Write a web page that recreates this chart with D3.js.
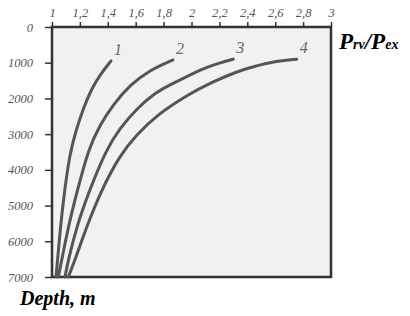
<!DOCTYPE html>
<html>
<head>
<meta charset="utf-8">
<script src="https://cdn.jsdelivr.net/npm/d3@7"></script>
<style>
  body { margin: 0; background: #fff; }
  svg { display: block; }
  .tick text { font-family: "Liberation Serif", serif; font-style: italic; fill: #555; }
</style>
</head>
<body>
<div id="chart"></div>
<script>
// chart size, matches the window
const svgWidth = 410;
const svgHeight = 316;
const margin = { top: 27, right: 79, bottom: 39, left: 52 };
const width = svgWidth - margin.left - margin.right;
const height = svgHeight - margin.top - margin.bottom;

// tick values for both axes
const ratioTicks = [1, 1.2, 1.4, 1.6, 1.8, 2, 2.2, 2.4, 2.6, 2.8, 3];
const ratioTickLabels = ["1", "1,2", "1,4", "1,6", "1,8", "2", "2,2", "2,4", "2,6", "2,8", "3"];
const depthTicks = [0, 1000, 2000, 3000, 4000, 5000, 6000, 7000];

// curve names and points: [ratio, depth]
const curveNames = ["1", "2", "3", "4"];
const curve1 = [[1.423, 950], [1.344, 1340], [1.285, 1720], [1.224, 2280], [1.177, 2840], [1.129, 3490], [1.081, 4840], [1.052, 5960], [1.029, 7000]];
const curve2 = [[1.867, 920], [1.703, 1200], [1.559, 1620], [1.437, 2180], [1.344, 2740], [1.262, 3400], [1.177, 4650], [1.117, 5590], [1.070, 6520], [1.045, 7000]];
const curve3 = [[2.300, 900], [2.204, 1000], [2.085, 1160], [1.966, 1390], [1.846, 1620], [1.751, 1810], [1.607, 2280], [1.487, 2840], [1.392, 3400], [1.260, 4650], [1.177, 5590], [1.117, 6520], [1.093, 7000]];
const curve4 = [[2.754, 900], [2.611, 950], [2.443, 1110], [2.324, 1250], [2.156, 1530], [1.989, 1860], [1.751, 2460], [1.607, 3020], [1.487, 3580], [1.344, 4650], [1.249, 5590], [1.165, 6520], [1.117, 7000]];
const curves = [curve1, curve2, curve3, curve4];

const svg = d3.select("#chart")
    .append("svg")
    .attr("width", svgWidth)
    .attr("height", svgHeight);

const g = svg.append("g")
    .attr("transform", `translate(${margin.left},${margin.top})`);

const x = d3.scaleLinear().domain([1, 3]).range([0, width]);
const y = d3.scaleLinear().domain([0, 7000]).range([0, height]);

// plot background
g.append("rect")
    .attr("x", 0)
    .attr("y", 0)
    .attr("width", width)
    .attr("height", height)
    .attr("fill", "#f1f1f1");

// top axis
const xAxis = g.append("g")
    .attr("class", "axis axis-x")
    .call(d3.axisTop(x)
        .tickValues(ratioTicks)
        .tickFormat((d, i) => ratioTickLabels[i])
        .tickSize(5)
        .tickPadding(5));
xAxis.select(".domain").remove();
xAxis.selectAll(".tick line").attr("stroke", "#333").attr("stroke-width", 1.5);
xAxis.selectAll(".tick text").attr("font-size", "12.5px");

// left axis
const yAxis = g.append("g")
    .attr("class", "axis axis-y")
    .call(d3.axisLeft(y)
        .tickValues(depthTicks)
        .tickFormat(d3.format("d"))
        .tickSize(7)
        .tickPadding(12));
yAxis.select(".domain").remove();
yAxis.selectAll(".tick line").attr("stroke", "#333").attr("stroke-width", 1.5);
yAxis.selectAll(".tick text").attr("font-size", "12.5px");

// frame
g.append("rect")
    .attr("x", 0)
    .attr("y", 0)
    .attr("width", width)
    .attr("height", height)
    .attr("fill", "none")
    .attr("stroke", "#333")
    .attr("stroke-width", 2.5);

// curves, basis keeps them smooth through the hand read points
const line = d3.line()
    .x(d => x(d[0]))
    .y(d => y(d[1]))
    .curve(d3.curveBasis);

g.selectAll(".curve")
    .data(curves)
    .enter()
    .append("path")
    .attr("class", "curve")
    .attr("d", line)
    .attr("fill", "none")
    .attr("stroke", "#555")
    .attr("stroke-width", 3)
    .attr("stroke-linecap", "round");

// curve numbers near the top end of each curve
g.selectAll(".curveLabel")
    .data(curves)
    .enter()
    .append("text")
    .attr("class", "curveLabel")
    .text((d, i) => curveNames[i])
    .attr("x", d => x(d[0][0]) + 7)
    .attr("y", d => y(d[0][1]) - 6)
    .attr("text-anchor", "middle")
    .attr("font-family", "Liberation Serif, serif")
    .attr("font-style", "italic")
    .attr("font-size", "16px")
    .attr("fill", "#666");

// axis titles
const xTitle = svg.append("text")
    .attr("x", 339)
    .attr("y", 49)
    .attr("font-family", "Liberation Serif, serif")
    .attr("font-style", "italic")
    .attr("font-weight", "bold")
    .attr("font-size", "23px")
    .attr("fill", "#000");
xTitle.append("tspan").text("P");
xTitle.append("tspan").text("rv").attr("font-size", "14px");
xTitle.append("tspan").text("/P");
xTitle.append("tspan").text("ex").attr("font-size", "14px");

svg.append("text")
    .text("Depth, m")
    .attr("x", 20)
    .attr("y", 305)
    .attr("font-family", "Liberation Serif, serif")
    .attr("font-style", "italic")
    .attr("font-weight", "bold")
    .attr("font-size", "20px")
    .attr("fill", "#000");
</script>
</body>
</html>
